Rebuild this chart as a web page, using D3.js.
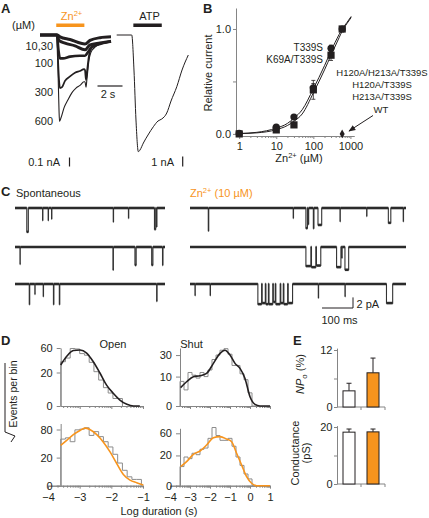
<!DOCTYPE html>
<html><head><meta charset="utf-8">
<script src="https://cdn.jsdelivr.net/npm/d3@7"></script>
<style>body{margin:0;background:#fff}svg{display:block;font-family:"Liberation Sans",Arial,Helvetica,sans-serif}</style>
</head><body><svg id="chart" width="429" height="518"></svg>
<script>
// ---------------- DATA ----------------
// Panel A: whole-cell currents (time s, current nA)
const znOn = 1.3, znOff = 3.55, atpOn = 1.33, atpOff = 3.6;
const znLabels = ["10,30", "100", "300", "600"];
const tZn10 = [0,1.36,1.6,2.4,3.6,4.0,4.8,5.68];
const iZn10 = [0,0,-0.02,-0.05,-0.1,-0.06,-0.03,-0.02];
const tZn30 = [0,1.36,1.52,2.0,2.8,3.6,4.0,4.8,5.68];
const iZn30 = [0,0,-0.06,-0.09,-0.12,-0.165,-0.11,-0.09,-0.07];
const tZn100 = [0,1.36,1.48,1.6,1.84,2.4,3.2,3.6,3.84,4.16,4.8,5.68];
const iZn100 = [0,0,-0.17,-0.26,-0.26,-0.24,-0.23,-0.23,-0.19,-0.13,-0.1,-0.07];
const tZn300 = [0,1.36,1.44,1.52,1.6,1.76,2.0,2.4,2.8,3.2,3.52,3.6,3.68,3.76,3.92,4.16,4.8,5.68];
const iZn300 = [0,0,-0.28,-0.5,-0.59,-0.58,-0.51,-0.46,-0.42,-0.4,-0.38,-0.39,-0.5,-0.41,-0.23,-0.14,-0.1,-0.07];
const tZn600 = [0,1.36,1.44,1.52,1.56,1.68,1.92,2.24,2.56,2.88,3.2,3.52,3.6,3.68,3.76,3.92,4.16,4.8,5.68];
const iZn600 = [0,0,-0.39,-0.83,-0.96,-0.92,-0.81,-0.72,-0.64,-0.59,-0.56,-0.52,-0.52,-0.58,-0.48,-0.28,-0.17,-0.1,-0.07];
const tATP = [0,1.2,1.38,1.54,1.73,1.86,2.13,2.5,2.93,3.3,3.6,4.0,4.34,4.8,5.22,5.72];
const iATP = [0,0,-3.5,-8.5,-11.67,-11.5,-10.8,-10.0,-9.17,-8.6,-8.4,-7.8,-6.6,-5.17,-3.5,-2.0];

// Panel B: concentration-response
const bConc = [1, 10, 30, 100, 300, 600];
const t339sRel = [0.005, 0.064, 0.16, 0.44, 0.816, 1.0];
const t339sErr = [0.005, 0.01, 0.02, 0.04, 0.03, 0];
const k69aRel = [0, 0.038, 0.086, 0.42, 0.75, 1.0];
const k69aErr = [0.005, 0.01, 0.01, 0.09, 0.05, 0];
const wtConc = [600], wtRel = [0];
const fitConc = [1, 3, 10, 20, 30, 50, 100, 200, 300, 500, 600, 800, 1050];
const fitT339S = [0.004, 0.015, 0.055, 0.10, 0.15, 0.23, 0.43, 0.65, 0.79, 0.95, 1.0, 1.06, 1.12];
const fitK69A = [0.003, 0.01, 0.04, 0.08, 0.12, 0.19, 0.39, 0.61, 0.75, 0.92, 0.98, 1.05, 1.11];
const bLabelsLeft = ["T339S", "K69A/T339S"];
const bLabelsRight = ["H120A/H213A/T339S", "H120A/T339S", "H213A/T339S", "WT"];

// Panel C: single-channel openings [start ms, duration ms, amplitude pA]
const spontRow1 = [[38,5,4.5],[89,1,2.3],[107,1,2.3],[118,1,2.0],[317,1,2.6],[366,1,1.9],[450,4,4.0],[456,2,3.5]];
const spontRow2 = [[16,1,3.2],[316,1.5,4.3],[387,4,3.4],[441,4,3.4],[476,1.5,3.4]];
const spontRow3 = [[46,1.5,3.8],[64,1,1.9],[91,1,2.3],[124,1.5,3.8],[143,1.5,3.8],[457,1.5,3.2]];
const znRow1 = [[59,1.5,4.3],[333,1,1.9],[374,5,3.8],[381,2,3.0],[398,2,3.8],[413,12,3.2],[484,1,2.5],[570,1,1.5],[640,8,2.8],[688,1,2.5]];
const znRow2 = [[374,16,3.6],[392,14,3.8],[408,14,3.5],[473,14,3.8],[490,1,2.0],[500,12,4.3]];
const znRow3 = [[16,1,2.1],[65,1,2.1],[219,12,3.8],[233,10,3.6],[245,8,3.8],[255,12,3.8],[269,6,3.4],[277,14,3.8],[293,8,3.6],[303,12,3.8],[317,14,3.6],[414,1,2.6],[500,1,2.3],[634,20,3.6]];

// Panel D: dwell-time histograms (events per bin), fits (log duration, events)
const openBinsSpont = [35,41,59,58,49,46,34,21,12,6,3,1,1];
const shutBinsSpont = [7,3,13,11,9,13,10,15,25,30,36,38,31,19,19,12,8,2,0];
const openBinsZn = [55,58,49,79,81,85,64,74,61,49,38,25,13,6,2,1,1];
const shutBinsZn = [8,18,16,23,21,29,31,49,74,55,45,45,49,34,18,9,3,1,0];
const openFitLog = [-3.6,-3.41,-3.2,-2.99,-2.78,-2.57,-2.36,-2.15,-1.94,-1.73,-1.51,-1.3,-1.1];
const openFitSpont = [30,44,55,56,50,35,19.4,7.8,2.9,0.64,0.05,0,0];
const shutFitLog = [-3.47,-3.17,-2.83,-2.5,-2.17,-1.83,-1.5,-1.25,-1.0,-0.75,-0.5,-0.25,0,0.25,0.5,1.0];
const shutFitSpont = [3.9,6.8,9.9,10.6,12.3,21,32,36,30,21,16.4,8.8,1.0,0.03,0,0];
const openFitZnLog = [-3.6,-3.41,-3.2,-2.99,-2.83,-2.68,-2.46,-2.25,-2.04,-1.83,-1.62,-1.41,-1.2,-0.99];
const openFitZn = [41,52,66,77,84,80,66,48,29,12.5,3.2,0.8,0.22,0.01];
const shutFitZnLog = [-3.47,-3.17,-2.83,-2.5,-2.17,-1.83,-1.5,-1.17,-0.92,-0.67,-0.42,-0.17,0.08,0.33,1.0];
const shutFitZn = [7.9,12.6,21.5,26.3,36.2,50.4,52.6,47.6,42.3,23,9.4,1.8,0.13,0,0];

// Panel E
const eGroups = ["Spontaneous", "Zn"];
const npoMean = [3.4, 7.2], npoErr = [1.6, 3.1];
const condMean = [18.2, 18.3], condErr = [1.1, 1.0];

// ---------------- DRAW ----------------
const ink = "#231f20", grey = "#858585", orange = "#F7941D";
const svg = d3.select("#chart");
function text(x, y, s, o = {}) {
  const t = svg.append("text").attr("x", x).attr("y", y).text(s)
    .attr("font-size", o.size || 11).attr("fill", o.fill || ink)
    .attr("text-anchor", o.anchor || "start");
  if (o.bold) t.attr("font-weight", "bold");
  return t;
}
function styleAxis(g) {
  g.attr("font-family", null).attr("font-size", null);
  g.selectAll(".domain,.tick line").attr("stroke", grey).attr("stroke-width", 1);
  g.selectAll(".tick text").attr("fill", ink).attr("font-size", 11);
  return g;
}
[["A",1,13],["B",203,13],["C",1,196],["D",1,344.5],["E",293,344.5]].forEach(d => text(d[1], d[2], d[0], {bold:true, size:13}));

// ---- Panel A ----
const xA = d3.scaleLinear().domain([0, 5.68]).range([40, 111]);
const yA = d3.scaleLinear().domain([0, -1]).range([35, 125]);
const lineA = d3.line().x(d => xA(d[0])).y(d => yA(d[1])).curve(d3.curveMonotoneX);
[[tZn10,iZn10,3],[tZn30,iZn30,3],[tZn100,iZn100,2.6],[tZn300,iZn300,1.8],[tZn600,iZn600,1.1]].forEach(tr => {
  svg.append("path").attr("d", lineA(d3.zip(tr[0], tr[1]))).attr("fill","none")
    .attr("stroke", ink).attr("stroke-width", tr[2]).attr("stroke-linejoin","round");
});
svg.append("rect").attr("x", xA(znOn)).attr("y", 23.5).attr("width", xA(znOff) - xA(znOn)).attr("height", 3.5).attr("fill", orange);
const znT = text(71.5, 20, "Zn", {fill: orange, anchor: "middle"});
znT.append("tspan").attr("font-size", 7.5).attr("dy", -4).text("2+");
text(12, 29, "(µM)");
[49.5, 67, 96, 125].forEach((y, i) => text(53, y, znLabels[i], {anchor: "end"}));
svg.append("line").attr("x1", xA(4.6)).attr("x2", xA(6.6)).attr("y1", 86).attr("y2", 86).attr("stroke", ink).attr("stroke-width", 1.2);
text(108, 98, "2 s", {anchor: "middle"});
svg.append("line").attr("x1", 69.5).attr("x2", 69.5).attr("y1", 166.5).attr("y2", 166.5 - (yA(-0.1) - yA(0))).attr("stroke", ink).attr("stroke-width", 1.2);
text(60, 166, "0.1 nA", {anchor: "end"});
const xATP = d3.scaleLinear().domain([0, 5.72]).range([116.7, 188.3]);
const yATP = d3.scaleLinear().domain([0, -12]).range([35, 155]);
svg.append("path").attr("d", d3.line().x(d => xATP(d[0])).y(d => yATP(d[1])).curve(d3.curveMonotoneX)(d3.zip(tATP, iATP)))
  .attr("fill","none").attr("stroke", ink).attr("stroke-width", 1);
svg.append("rect").attr("x", xATP(atpOn)).attr("y", 23.5).attr("width", xATP(atpOff) - xATP(atpOn)).attr("height", 3.5).attr("fill", ink);
text(149.5, 20, "ATP", {anchor: "middle"});
svg.append("line").attr("x1", 182.7).attr("x2", 182.7).attr("y1", 166.5).attr("y2", 166.5 - (yATP(-1) - yATP(0))).attr("stroke", ink).attr("stroke-width", 1.2);
text(174, 166, "1 nA", {anchor: "end"});

// ---- Panel B ----
const xB = d3.scaleLog().domain([0.82, 1250]).range([236, 354]);
const yB = d3.scaleLinear().domain([-0.02, 1.2]).range([136, 8]);
const minorB = [];
[1,10,100,1000].forEach(dec => { for (let k = 2; k <= 9; k++) { const v = dec * k; if (v < 1250) minorB.push(v); } });
styleAxis(svg.append("g").attr("transform", "translate(0,136)").call(d3.axisBottom(xB).tickValues(minorB).tickFormat("").tickSize(2).tickSizeOuter(0)));
styleAxis(svg.append("g").attr("transform", "translate(0,136)").call(d3.axisBottom(xB).tickValues([1,10,100,1000]).tickFormat(d3.format("d")).tickSize(3).tickSizeOuter(0)));
styleAxis(svg.append("g").attr("transform", "translate(236,0)").call(d3.axisLeft(yB).tickValues([0,0.5,1]).tickFormat(d => d === 0.5 ? "" : d3.format(".1f")(d)).tickSize(3).tickPadding(2).tickSizeOuter(0)));
text(0, 0, "Relative current", {anchor: "middle"}).attr("transform", "translate(212,73) rotate(-90)");
const bx = text(299, 161.5, "Zn", {anchor: "middle"});
bx.append("tspan").attr("font-size", 7.5).attr("dy", -4).text("2+");
bx.append("tspan").attr("dy", 4).text(" (µM)");
const lineB = d3.line().x(d => xB(d[0])).y(d => yB(d[1])).curve(d3.curveMonotoneX);
[fitT339S, fitK69A].forEach(f => svg.append("path").attr("d", lineB(d3.zip(fitConc, f))).attr("fill","none").attr("stroke", ink).attr("stroke-width", 1));
function errBars(rel, err) {
  bConc.forEach((c, i) => { if (!err[i]) return;
    const x = xB(c), y1 = yB(rel[i] - err[i]), y2 = yB(rel[i] + err[i]);
    svg.append("line").attr("x1", x).attr("x2", x).attr("y1", y1).attr("y2", y2).attr("stroke", ink).attr("stroke-width", 0.8);
    [y1, y2].forEach(y => svg.append("line").attr("x1", x - 2).attr("x2", x + 2).attr("y1", y).attr("y2", y).attr("stroke", ink).attr("stroke-width", 0.8));
  });
}
errBars(k69aRel, k69aErr); errBars(t339sRel, t339sErr);
bConc.forEach((c, i) => svg.append("circle").attr("cx", xB(c)).attr("cy", yB(t339sRel[i])).attr("r", 3.6).attr("fill", ink));
bConc.forEach((c, i) => svg.append("rect").attr("x", xB(c) - 3.6).attr("y", yB(k69aRel[i]) - 3.6).attr("width", 7.2).attr("height", 7.2).attr("fill", ink));
wtConc.forEach((c, i) => svg.append("path").attr("d", d3.symbol(d3.symbolDiamond, 22)()).attr("transform", `translate(${xB(c)},${yB(wtRel[i])})`).attr("fill", ink));
[51, 63].forEach((y, i) => text(323, y, bLabelsLeft[i], {anchor: "end", size: 10}));
[76, 88, 100, 113].forEach((y, i) => text(i === 3 ? 381 : 382, y, bLabelsRight[i], {anchor: "middle", size: 9.5}));
svg.append("defs").append("marker").attr("id", "arr").attr("viewBox", "0 0 10 10").attr("refX", 9).attr("refY", 5)
  .attr("markerWidth", 7).attr("markerHeight", 7).attr("orient", "auto").append("path").attr("d", "M0,1L10,5L0,9z").attr("fill", ink);
svg.append("line").attr("x1", 373).attr("y1", 115.5).attr("x2", 349).attr("y2", 131).attr("stroke", ink).attr("stroke-width", 1).attr("marker-end", "url(#arr)");

// ---- Panel C ----
text(16, 197, "Spontaneous");
const cz = text(190, 197, "Zn", {fill: orange});
cz.append("tspan").attr("font-size", 7.5).attr("dy", -4).text("2+");
cz.append("tspan").attr("dy", 4).text(" (10 µM)");
const xCL = d3.scaleLinear().domain([0, 484]).range([15, 165]);
const xCR = d3.scaleLinear().domain([0, 697]).range([190, 406]);
function drawTrace(events, xs, base) {
  const y = d3.scaleLinear().domain([0, -5]).range([base, base + 26.5]);
  const T = xs.domain()[1];
  const pts = [[0, 0]];
  events.forEach(e => { pts.push([e[0], 0], [e[0], -e[2]], [e[0] + e[1], -e[2]], [e[0] + e[1], 0]); });
  pts.push([T, 0]);
  const l = d3.line().x(d => xs(d[0])).y(d => y(d[1]));
  svg.append("path").attr("d", l(pts)).attr("stroke", "#333").attr("stroke-width", 1.1).attr("fill","none");
  // thick (noisy) levels: closed baseline between events and open levels during events
  const segs = [];
  let prev = 0;
  events.forEach(e => { segs.push([[prev, 0], [e[0], 0]]); segs.push([[e[0], -e[2]], [e[0] + e[1], -e[2]]]); prev = e[0] + e[1]; });
  segs.push([[prev, 0], [T, 0]]);
  segs.forEach(s => svg.append("path").attr("d", l(s)).attr("stroke", "#2b2b2b").attr("stroke-width", 2.6).attr("fill","none"));
}
[[spontRow1,208],[spontRow2,247],[spontRow3,284]].forEach(r => drawTrace(r[0], xCL, r[1]));
[[znRow1,208],[znRow2,247],[znRow3,284]].forEach(r => drawTrace(r[0], xCR, r[1]));
const yCbar = d3.scaleLinear().domain([0, 2]).range([0, 10.6]);
svg.append("path").attr("d", `M${xCR(426)},308H${xCR(526)}V${308 - yCbar(2)}`).attr("fill","none").attr("stroke", ink).attr("stroke-width", 1);
text(356.5, 307.5, "2 pA");
text(321.5, 324, "100 ms");

// ---- Panel D ----
function histPts(start, w, counts) {
  const p = [[start, 0]];
  counts.forEach((c, i) => { p.push([start + i * w, c], [start + (i + 1) * w, c]); });
  p.push([start + counts.length * w, 0]);
  return p;
}
function minorLog(lo, hi) {
  const m = [];
  for (let n = -5; n <= 1; n++) for (let k = 2; k <= 9; k++) { const v = n + Math.log10(k); if (v > lo && v < hi) m.push(v); }
  return m;
}
function histPanel(o) {
  const xs = d3.scaleLinear().domain([o.xlo, o.xhi]).range([o.x0, o.x1]);
  const ys = d3.scaleSqrt().domain([0, o.ymax]).range([o.yb, o.yt]);
  styleAxis(svg.append("g").attr("transform", `translate(0,${o.yb})`).call(d3.axisBottom(xs).tickValues(minorLog(o.xlo, o.xhi)).tickFormat("").tickSize(2).tickSizeOuter(0)));
  const majors = d3.range(Math.ceil(o.xlo), Math.floor(o.xhi) + 1);
  styleAxis(svg.append("g").attr("transform", `translate(0,${o.yb})`).call(d3.axisBottom(xs).tickValues(majors).tickFormat(o.labels ? d3.format("d") : "").tickSize(3).tickPadding(4.5).tickSizeOuter(0)));
  styleAxis(svg.append("g").attr("transform", `translate(${xs(o.axisAt)},0)`).call(d3.axisLeft(ys).tickValues(o.yticks).tickSize(4).tickPadding(4).tickSizeOuter(0)));
  const l = d3.line().x(d => xs(d[0])).y(d => ys(d[1]));
  svg.append("path").attr("d", l(histPts(o.binStart, o.binW, o.bins))).attr("fill","none").attr("stroke", "#8c8c8c").attr("stroke-width", 1);
  svg.append("path").attr("d", l.curve(d3.curveMonotoneX)(d3.zip(o.fitX, o.fitY))).attr("fill","none").attr("stroke", o.color).attr("stroke-width", 1.6);
}
histPanel({xlo:-3.6, xhi:-1, x0:60.7, x1:143, yb:406, yt:348, ymax:60, axisAt:-3.6, yticks:[0,20,60], labels:false,
  binStart:-3.6, binW:0.15, bins:openBinsSpont, fitX:openFitLog, fitY:openFitSpont, color:ink});
histPanel({xlo:-3.5, xhi:1, x0:180, x1:270, yb:406, yt:348, ymax:38.9, axisAt:-3.5, yticks:[0,10,30], labels:false,
  binStart:-3.5, binW:0.2, bins:shutBinsSpont, fitX:shutFitLog, fitY:shutFitSpont, color:ink});
histPanel({xlo:-4, xhi:-1, x0:48, x1:143, yb:485.7, yt:423.5, ymax:98, axisAt:-3.6, yticks:[0,20,80], labels:true,
  binStart:-3.6, binW:0.15, bins:openBinsZn, fitX:openFitZnLog, fitY:openFitZn, color:orange});
histPanel({xlo:-4, xhi:1, x0:170, x1:270, yb:485.7, yt:428.3, ymax:72, axisAt:-3.5, yticks:[0,20,60], labels:true,
  binStart:-3.5, binW:0.2, bins:shutBinsZn, fitX:shutFitZnLog, fitY:shutFitZn, color:orange});
text(113, 347.7, "Open", {anchor: "middle"});
text(191.5, 347.7, "Shut", {anchor: "middle"});
text(159, 515, "Log duration (s)", {anchor: "middle"});
text(0, 0, "Events per bin", {anchor: "middle", size: 10.5}).attr("transform", "translate(17,394) rotate(-90)");
svg.append("path").attr("d", "M5,363V432L15,436L11,442").attr("fill","none").attr("stroke", ink).attr("stroke-width", 1);

// ---- Panel E ----
const xE = d3.scaleBand().domain(eGroups).range([337, 385]).paddingInner(0.5).paddingOuter(0.25);
function barPanel(means, errs, ys, ticks, mid) {
  styleAxis(svg.append("g").attr("transform", "translate(337,0)").call(d3.axisLeft(ys).tickValues(ticks).tickFormat(d => d === mid ? "" : d).tickSize(3).tickPadding(1.5).tickSizeOuter(0)));
  const y0 = ys(0);
  svg.append("path").attr("d", `M337,${y0}H385M361,${y0}v3M385,${y0}v3`).attr("stroke", grey).attr("fill","none");
  eGroups.forEach((g, i) => {
    const cx = xE(g) + xE.bandwidth() / 2;
    svg.append("line").attr("x1", cx).attr("x2", cx).attr("y1", ys(means[i])).attr("y2", ys(means[i] + errs[i])).attr("stroke", ink);
    svg.append("line").attr("x1", cx - 2.5).attr("x2", cx + 2.5).attr("y1", ys(means[i] + errs[i])).attr("y2", ys(means[i] + errs[i])).attr("stroke", ink);
    svg.append("rect").attr("x", xE(g)).attr("y", ys(means[i])).attr("width", xE.bandwidth()).attr("height", y0 - ys(means[i]))
      .attr("fill", i === 0 ? "#fff" : orange).attr("stroke", ink).attr("stroke-width", 1);
  });
}
barPanel(npoMean, npoErr, d3.scaleLinear().domain([0, 12.4]).range([407, 348.1]), [0, 6, 12], 6);
barPanel(condMean, condErr, d3.scaleLinear().domain([0, 20.5]).range([484, 425.6]), [0, 10, 20], 10);
const np = text(0, 0, "", {anchor: "middle"}).attr("transform", "translate(304,374) rotate(-90)");
np.append("tspan").attr("font-style", "italic").text("NP");
np.append("tspan").attr("font-size", 8).attr("dy", 2.5).text("o");
np.append("tspan").attr("dy", -2.5).text(" (%)");
text(0, 0, "Conductance", {anchor: "middle"}).attr("transform", "translate(299,453) rotate(-90)");
text(0, 0, "(pS)", {anchor: "middle"}).attr("transform", "translate(310,453) rotate(-90)");
</script></body></html>
